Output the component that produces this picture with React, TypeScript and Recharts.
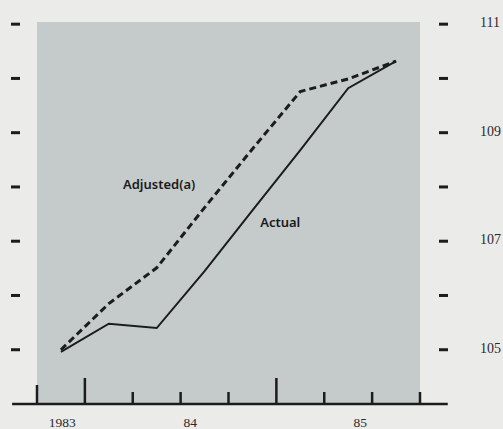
import React from 'react';
import { LineChart, Line, XAxis, YAxis, CartesianGrid, ReferenceLine, ReferenceDot } from 'recharts';

// Quarters: 1983 Q4 .. 1985 Q3, plotted at quarter midpoints
const quarterPos = [0.5, 1.5, 2.5, 3.5, 4.5, 5.5, 6.5, 7.5];
const actualValues = [104.96, 105.48, 105.40, 106.45, 107.57, 108.68, 109.82, 110.32];
const adjustedValues = [105.0, 105.85, 106.51, 107.62, 108.70, 109.76, 109.99, 110.32];

const quarterBoundaries = [0, 1, 2, 3, 4, 5, 6, 7, 8];
const yearBoundaries = [1, 5];
const yearLabelPos = [0.53, 3.2, 6.75];
const yearLabels = ['1983', '84', '85'];

const yTicks = [105, 106, 107, 108, 109, 110, 111];
const yLabelled = [105, 107, 109, 111];

const data = quarterPos.map((q, i) => ({ q, actual: actualValues[i], adjusted: adjustedValues[i] }));

const INK = '#1c1c1c';
const SERIF = "'Liberation Serif', 'DejaVu Serif', serif";

const QuarterTick = (props: any) => {
  const { x, y, payload } = props;
  const v = payload.value;
  const h = yearBoundaries.includes(v) ? 26 : v === 0 ? 19 : 12;
  return <line x1={x} x2={x} y1={y} y2={y - h} stroke={INK} strokeWidth={2.5} />;
};

const YearTick = (props: any) => {
  const { x, y, payload, index } = props;
  return (
    <text x={x} y={y + 21} textAnchor="middle" fill="#2a2a2a" fontSize={13.5} fontFamily={SERIF}>
      {yearLabels[index] ?? payload.value}
    </text>
  );
};

const LeftTick = (props: any) => {
  const { x, y } = props;
  return <rect x={x - 26} y={y - 1.5} width={9} height={3} fill={INK} />;
};

const RightTick = (props: any) => {
  const { x, y, payload } = props;
  const v = payload.value;
  return (
    <g>
      <rect x={x + 19} y={y - 1.5} width={9} height={3} fill={INK} />
      {yLabelled.includes(v) && (
        <text x={x + 60} y={y + 3} textAnchor="start" fill="#2a2a2a" fontSize={14} fontFamily={SERIF}>
          {v}
        </text>
      )}
    </g>
  );
};

const makeLabel = (text: string) => (props: any) => {
  const { viewBox } = props;
  const cx = viewBox.x + (viewBox.width || 0) / 2;
  const cy = viewBox.y + (viewBox.height || 0) / 2;
  return (
    <text x={cx} y={cy + 4.5} textAnchor="middle" fill="#1a1a1a" fontSize={13} fontWeight={600} fontFamily="'Noto Sans', 'DejaVu Sans', sans-serif">
      {text}
    </text>
  );
};

export default function App() {
  return (
    <div style={{ position: 'absolute', left: 0, top: 0, width: 503, height: 429, background: '#ebebea' }}>
      <LineChart width={503} height={429} data={data} margin={{ top: 22, right: 0, bottom: 0, left: 0 }}>
        <CartesianGrid fill="#c5cacb" stroke="none" horizontal={false} vertical={false} />
        <XAxis
          dataKey="q"
          type="number"
          domain={[0, 8]}
          ticks={quarterBoundaries}
          axisLine={false}
          tickLine={false}
          tickSize={0}
          tickMargin={0}
          height={2}
          tick={<QuarterTick />}
          interval={0}
        />
        <XAxis
          xAxisId="years"
          dataKey="q"
          type="number"
          domain={[0, 8]}
          ticks={yearLabelPos}
          axisLine={false}
          tickLine={false}
          tickSize={0}
          tickMargin={0}
          height={23}
          tick={<YearTick />}
          interval={0}
        />
        <YAxis
          yAxisId="left"
          orientation="left"
          type="number"
          domain={[104, 111.04]}
          ticks={yTicks}
          width={37}
          axisLine={false}
          tickLine={false}
          tickSize={0}
          tickMargin={0}
          tick={<LeftTick />}
          interval={0}
          allowDataOverflow
        />
        <YAxis
          yAxisId="right"
          orientation="right"
          type="number"
          domain={[104, 111.04]}
          ticks={yTicks}
          width={83}
          axisLine={false}
          tickLine={false}
          tickSize={0}
          tickMargin={0}
          tick={<RightTick />}
          interval={0}
          allowDataOverflow
        />
        <ReferenceLine
          yAxisId="left"
          segment={[{ x: -0.52, y: 104 }, { x: 8.58, y: 104 }]}
          stroke={INK}
          strokeWidth={2.5}
          ifOverflow="visible"
        />
        <Line
          yAxisId="left"
          type="linear"
          dataKey="adjusted"
          stroke={INK}
          strokeWidth={3}
          strokeDasharray="7 4"
          dot={false}
          isAnimationActive={false}
        />
        <Line
          yAxisId="left"
          type="linear"
          dataKey="actual"
          stroke={INK}
          strokeWidth={2}
          dot={false}
          isAnimationActive={false}
        />
        <ReferenceDot yAxisId="left" x={2.55} y={108.04} r={0} fill="none" stroke="none" label={makeLabel('Adjusted(a)')} ifOverflow="visible" />
        <ReferenceDot yAxisId="left" x={5.08} y={107.34} r={0} fill="none" stroke="none" label={makeLabel('Actual')} ifOverflow="visible" />
      </LineChart>
    </div>
  );
}
